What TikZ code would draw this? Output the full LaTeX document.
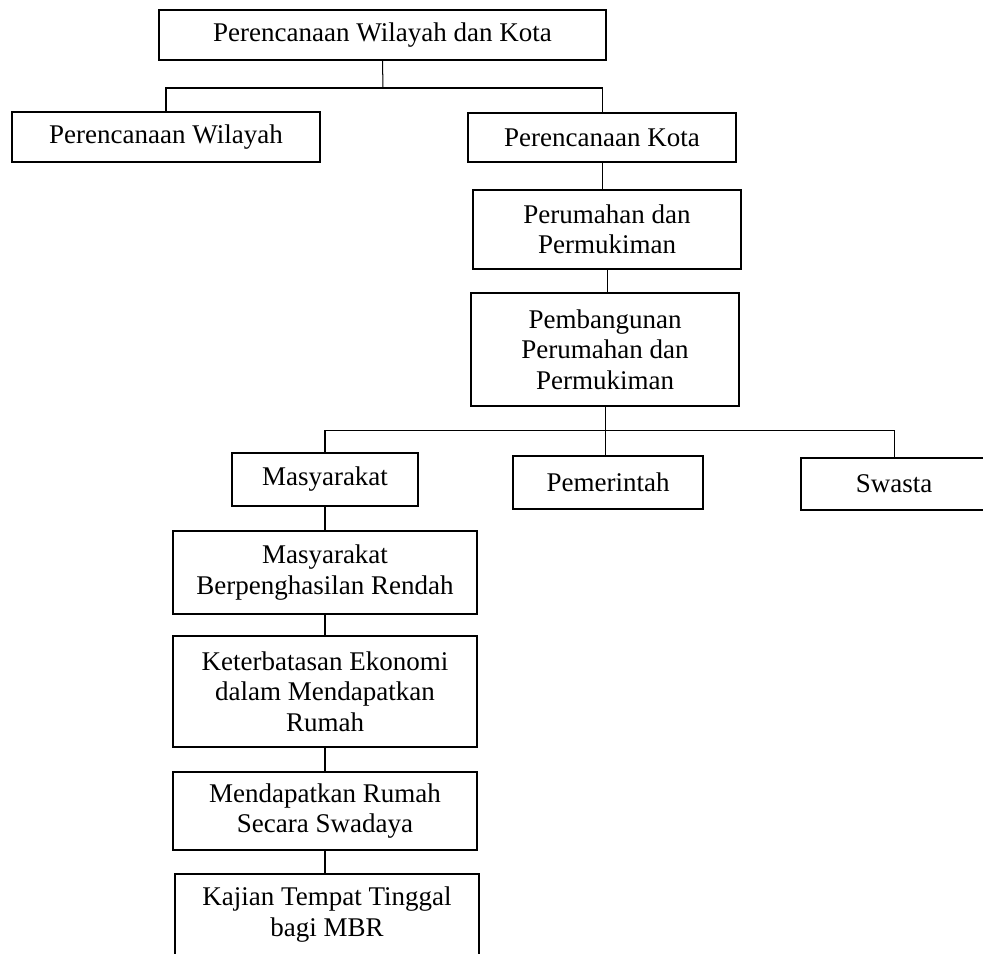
\documentclass[tikz,border=0pt]{standalone}
\usepackage{fontspec}
\setmainfont{Liberation Serif}
\usetikzlibrary{positioning,calc}

\begin{document}
\begin{tikzpicture}[x=0.4444pt, y=-0.4444pt]
  \tikzstyle{every node} = [font=\fontsize{12}{13.5}\selectfont]
  \tikzstyle{box} = [draw, line width=0.9pt, align=center, inner sep=2pt]
  \tikzstyle{link} = [line width=0.45pt]

  \useasboundingbox (0,0) rectangle (983,953);
  \clip (0,0) rectangle (983,953);

  \def\xM{325}
  \def\xP{605}

  % planning levels
  \node[box, minimum width=198.7pt, minimum height=22.2pt] (pwk) at (382.5, 35) {Perencanaan Wilayah dan Kota};
  \node[box, minimum width=136.9pt, minimum height=22.2pt] (pw)  at (166, 137)   {Perencanaan Wilayah};
  \node[box, minimum width=119.1pt, minimum height=21.8pt] (pk)  at (602, 137.5) {Perencanaan Kota};
  \node[box, minimum width=119.1pt, minimum height=35.1pt] (pp)  at (607, 229.5) {Perumahan dan\\Permukiman};
  \node[box, minimum width=119.5pt, minimum height=50.2pt] (ppp) at (\xP, 349.5) {Pembangunan\\Perumahan dan\\Permukiman};

  % actors
  \node[box, minimum width=82.7pt, minimum height=23.6pt] (mas) at (\xM, 479.5) {Masyarakat};
  \node[box, minimum width=84.4pt, minimum height=23.6pt] (pem) at (608, 482.5) {Pemerintah};
  \node[box, minimum width=82.7pt, minimum height=23.1pt] (swa) at (894, 484)   {Swasta};

  % MBR column
  \node[box, minimum width=135.1pt, minimum height=36.9pt] (mbr) at (\xM, 572.5) {Masyarakat\\Berpenghasilan Rendah};
  \node[box, minimum width=135.1pt, minimum height=49.3pt] (eko) at (\xM, 691.5) {Keterbatasan Ekonomi\\dalam Mendapatkan\\Rumah};
  \node[box, minimum width=135.1pt, minimum height=34.7pt] (swd) at (\xM, 811)   {Mendapatkan Rumah\\Secara Swadaya};
  \node[box, minimum width=135.1pt, minimum height=36pt]   (kaj) at (327, 914.5) {Kajian Tempat Tinggal\\bagi MBR};

  % connection lines
  \draw[link] (pwk.south) -- (383, 88) coordinate (bus1);
  \draw[link] (pw.north) |- (bus1) -| (pk.north);
  \draw[link] (pk.south) -- (pk.south |- pp.north);
  \draw[link] (pp.south) -- (pp.south |- ppp.north);

  \draw[link] (ppp.south) -- (\xP, 430) coordinate (bus2);
  \draw[link] (mas.north) |- (bus2) -| (swa.north);
  \draw[link] (bus2) -- (bus2 |- pem.north);

  \draw[link] (mas) -- (mbr);
  \draw[link] (mbr) -- (eko);
  \draw[link] (eko) -- (swd);
  \draw[link] (swd.south) -- (swd.south |- kaj.north);

\end{tikzpicture}
\end{document}
